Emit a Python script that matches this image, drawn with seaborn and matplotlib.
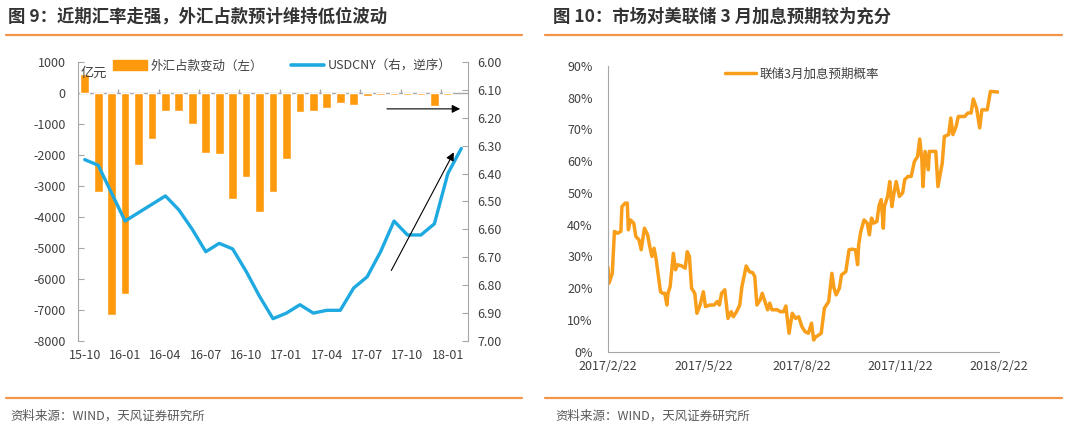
import numpy as np
import pandas as pd
import seaborn as sns
import matplotlib.pyplot as plt
from matplotlib.lines import Line2D
from matplotlib.patches import Patch

# left panel: monthly change of FX funds (100m yuan) and USDCNY
months = ['15-10', '15-11', '15-12', '16-01', '16-02', '16-03', '16-04', '16-05',
          '16-06', '16-07', '16-08', '16-09', '16-10', '16-11', '16-12', '17-01',
          '17-02', '17-03', '17-04', '17-05', '17-06', '17-07', '17-08', '17-09',
          '17-10', '17-11', '17-12', '18-01', '18-02']
fx_change = [600, -3200, -7150, -6480, -2320, -1500, -580, -580, -1010, -1950,
             -1980, -3420, -2720, -3850, -3200, -2130, -620, -580, -470, -330,
             -400, -90, -70, -55, -60, -55, -410, -55, np.nan]
usdcny = [6.35, 6.37, 6.47, 6.57, 6.54, 6.51, 6.48, 6.53, 6.60, 6.68, 6.65, 6.67,
          6.75, 6.84, 6.92, 6.90, 6.87, 6.90, 6.89, 6.89, 6.81, 6.77, 6.68, 6.57,
          6.62, 6.62, 6.58, 6.40, 6.31]

# right panel: probability of a March Fed hike (%)
prob_dates = ['2017-02-22', '2017-02-23', '2017-02-26', '2017-02-28', '2017-03-03',
              '2017-03-06', '2017-03-07', '2017-03-10', '2017-03-12', '2017-03-13',
              '2017-03-15', '2017-03-18', '2017-03-20', '2017-03-23', '2017-03-25',
              '2017-03-28', '2017-03-31', '2017-04-02', '2017-04-04', '2017-04-06',
              '2017-04-08', '2017-04-12', '2017-04-14', '2017-04-16', '2017-04-18',
              '2017-04-19', '2017-04-21', '2017-04-24', '2017-04-26', '2017-04-28',
              '2017-05-02', '2017-05-05', '2017-05-07', '2017-05-09', '2017-05-11',
              '2017-05-14', '2017-05-16', '2017-05-19', '2017-05-22', '2017-05-24',
              '2017-05-28', '2017-06-01', '2017-06-04', '2017-06-06', '2017-06-08',
              '2017-06-11', '2017-06-14', '2017-06-17', '2017-06-19', '2017-06-22',
              '2017-06-25', '2017-06-27', '2017-07-01', '2017-07-04', '2017-07-07',
              '2017-07-09', '2017-07-11', '2017-07-14', '2017-07-16', '2017-07-19',
              '2017-07-21', '2017-07-23', '2017-07-25', '2017-07-30', '2017-08-02',
              '2017-08-05', '2017-08-07', '2017-08-10', '2017-08-13', '2017-08-16',
              '2017-08-19', '2017-08-22', '2017-08-25', '2017-08-28', '2017-08-31',
              '2017-09-02', '2017-09-04', '2017-09-07', '2017-09-09', '2017-09-12',
              '2017-09-16', '2017-09-19', '2017-09-21', '2017-09-23', '2017-09-26',
              '2017-09-28', '2017-10-02', '2017-10-05', '2017-10-08', '2017-10-11',
              '2017-10-13', '2017-10-14', '2017-10-16', '2017-10-19', '2017-10-22',
              '2017-10-24', '2017-10-26', '2017-10-28', '2017-10-31', '2017-11-02',
              '2017-11-04', '2017-11-05', '2017-11-06', '2017-11-07', '2017-11-10',
              '2017-11-12', '2017-11-14', '2017-11-16', '2017-11-18', '2017-11-21',
              '2017-11-24', '2017-11-26', '2017-11-29', '2017-12-02', '2017-12-05',
              '2017-12-08', '2017-12-10', '2017-12-12', '2017-12-13', '2017-12-15',
              '2017-12-18', '2017-12-19', '2017-12-25', '2017-12-27', '2017-12-31',
              '2018-01-02', '2018-01-06', '2018-01-08', '2018-01-10', '2018-01-13',
              '2018-01-15', '2018-01-21', '2018-01-24', '2018-01-27', '2018-01-29',
              '2018-02-01', '2018-02-04', '2018-02-06', '2018-02-11', '2018-02-14',
              '2018-02-21']
prob_values = [26.6, 21.6, 24.7, 37.9, 37.3, 37.9, 45.7, 46.8, 46.8, 38.4,
               41.5, 40.5, 36.3, 35.2, 32.1, 38.9, 36.8, 33.1, 30.0, 32.6,
               28.9, 18.9, 18.4, 18.4, 14.7, 18.4, 20.5, 31.0, 25.8, 27.4,
               27.0, 26.3, 31.5, 30.0, 20.0, 18.4, 12.1, 14.7, 18.9, 14.2,
               14.7, 14.7, 15.8, 14.7, 18.4, 19.5, 10.5, 12.6, 11.0, 12.6,
               14.7, 20.5, 27.0, 25.2, 24.9, 23.7, 14.7, 16.3, 18.4, 15.3,
               13.2, 15.3, 13.2, 13.2, 12.6, 12.6, 14.4, 5.8, 12.1, 10.5,
               11.0, 7.9, 6.3, 5.8, 9.0, 3.7, 4.7, 5.3, 5.8, 13.7,
               15.8, 24.7, 20.0, 17.9, 20.0, 24.2, 25.2, 32.1, 32.3, 32.1,
               27.4, 33.7, 37.9, 41.5, 40.5, 36.8, 42.1, 40.5, 41.0, 46.0,
               47.9, 43.7, 38.9, 45.7, 48.9, 53.6, 45.7, 50.0, 53.6, 48.9,
               50.0, 54.2, 55.2, 55.2, 59.9, 61.5, 67.0, 60.5, 52.0, 63.1,
               57.3, 63.1, 63.1, 52.0, 59.4, 67.8, 68.4, 73.6, 68.4, 71.0,
               74.1, 74.1, 75.2, 75.2, 79.6, 76.8, 70.5, 76.2, 76.2, 82.0,
               81.8]
prob_ticks = ['2017-02-22', '2017-05-22', '2017-08-22', '2017-11-22', '2018-02-22']

ORANGE = '#FF9A0D'
LINE_ORANGE = '#F99E1A'
BLUE = '#1FA9E1'
GREY = '#A6A6A6'
TEXT = '#404040'
HEAD = '#F0954A'

sns.set_style('white')
plt.rcParams['font.family'] = ['Noto Sans CJK SC', 'DejaVu Sans']
plt.rcParams['axes.unicode_minus'] = False

W, H = 1080, 443
fig = plt.figure(figsize=(W / 100, H / 100), dpi=100)


def box(x0, y0, x1, y1):
    return [x0 / W, 1 - y1 / H, (x1 - x0) / W, (y1 - y0) / H]


def hline(x0, x1, y):
    fig.add_artist(Line2D([x0 / W, x1 / W], [1 - y / H] * 2, color=HEAD, lw=1.6))


# headers, rules and sources
fig.text(8 / W, 1 - 17 / H, '图 9：近期汇率走强，外汇占款预计维持低位波动',
         fontsize=12.5, fontweight='bold', color='#333333', va='center')
fig.text(553 / W, 1 - 17 / H, '图 10：市场对美联储 3 月加息预期较为充分',
         fontsize=12.5, fontweight='bold', color='#333333', va='center')
hline(6, 522, 35)
hline(545, 1062, 35)
hline(6, 522, 398)
hline(545, 1062, 398)
fig.text(10 / W, 1 - 416 / H, '资料来源：WIND，天风证券研究所', fontsize=9, color='#595959', va='center')
fig.text(555 / W, 1 - 416 / H, '资料来源：WIND，天风证券研究所', fontsize=9, color='#595959', va='center')

# ---- left panel
ax = fig.add_axes(box(78, 62, 468, 341))
fx_df = pd.DataFrame({'month': months, 'change': fx_change})
sns.barplot(data=fx_df, x='month', y='change', color=ORANGE, saturation=1,
            width=0.65, errorbar=None, ax=ax, zorder=2)
ax.axhline(0, color=GREY, lw=1, zorder=1)
ax.vlines(np.arange(2.5, len(months) - 1, 3), 0, 130, color=GREY, lw=1, zorder=1)
ax.set_ylim(-8000, 1000)
ax.set_yticks(range(-8000, 1001, 1000))
ax.set_xticks(range(0, len(months), 3))
ax.set_xticklabels(months[::3])
ax.tick_params(axis='y', direction='in', length=4, color=GREY, labelsize=9,
               labelcolor=TEXT, pad=9)
ax.tick_params(axis='x', length=0, labelsize=9, labelcolor=TEXT, pad=6)
ax.set_xlabel('')
ax.set_ylabel('')
for s in ['top', 'right', 'bottom']:
    ax.spines[s].set_visible(False)
ax.spines['left'].set_color(GREY)
ax.text(0.007, 0.96, '亿元', transform=ax.transAxes, fontsize=9.5, color=TEXT, va='center')

ax2 = ax.twinx()
sns.lineplot(x=np.arange(len(months)), y=usdcny, ax=ax2, color=BLUE, lw=2.4)
ax2.set_ylim(7.0, 6.0)
ax2.set_yticks(np.arange(6.0, 7.01, 0.1))
ax2.set_yticklabels([f'{v:.2f}' for v in np.arange(6.0, 7.01, 0.1)])
ax2.tick_params(axis='y', direction='in', length=4, color=GREY, labelsize=9,
                labelcolor=TEXT, pad=7)
for s in ['top', 'left', 'bottom']:
    ax2.spines[s].set_visible(False)
ax2.spines['right'].set_color(GREY)
ax2.set_ylabel('')
ax.set_xlim(-0.5, len(months) - 0.5)

handles = [Patch(color=ORANGE), Line2D([], [], color=BLUE, lw=2.6)]
leg = ax2.legend(handles, ['外汇占款变动（左）', 'USDCNY（右，逆序）'],
                 loc='center left', bbox_to_anchor=(0.09, 0.986), ncol=2,
                 frameon=False, fontsize=9, handlelength=2.7, handleheight=0.8,
                 handletextpad=0.3, columnspacing=2.2, borderpad=0, borderaxespad=0)
for t in leg.get_texts():
    t.set_color(TEXT)

arrow = dict(arrowstyle='-|>', color='black', lw=0.8, mutation_scale=12)
ax2.annotate('', xy=(0.987, 0.832), xytext=(0.785, 0.832), xycoords='axes fraction',
             arrowprops=arrow)
ax2.annotate('', xy=(0.967, 0.685), xytext=(0.80, 0.244), xycoords='axes fraction',
             arrowprops=arrow)

# ---- right panel
axr = fig.add_axes(box(608, 66, 999, 351.7))
prob_df = pd.DataFrame({'date': pd.to_datetime(prob_dates), 'prob': prob_values})
sns.lineplot(data=prob_df, x='date', y='prob', ax=axr, color=LINE_ORANGE, lw=2.5,
             label='联储3月加息预期概率')
tick_dates = pd.to_datetime(prob_ticks)
axr.set_xlim(tick_dates[0], tick_dates[-1])
axr.set_xticks(tick_dates)
axr.set_xticklabels([f'{d.year}/{d.month}/{d.day}' for d in tick_dates])
axr.set_ylim(0, 90)
axr.set_yticks(range(0, 91, 10))
axr.set_yticklabels([f'{v}%' for v in range(0, 91, 10)])
axr.tick_params(direction='in', length=4, color=GREY, labelsize=9, labelcolor=TEXT)
axr.tick_params(axis='y', pad=11)
axr.tick_params(axis='x', pad=6)
axr.set_xlabel('')
axr.set_ylabel('')
for s in ['top', 'right']:
    axr.spines[s].set_visible(False)
for s in ['left', 'bottom']:
    axr.spines[s].set_color(GREY)
legr = axr.legend(loc='center left', bbox_to_anchor=(0.299, 0.972), frameon=False,
                  fontsize=9, handlelength=2.5, handletextpad=0.3, borderpad=0,
                  borderaxespad=0)
for t in legr.get_texts():
    t.set_color(TEXT)

fig.savefig('out.png', dpi=100)
